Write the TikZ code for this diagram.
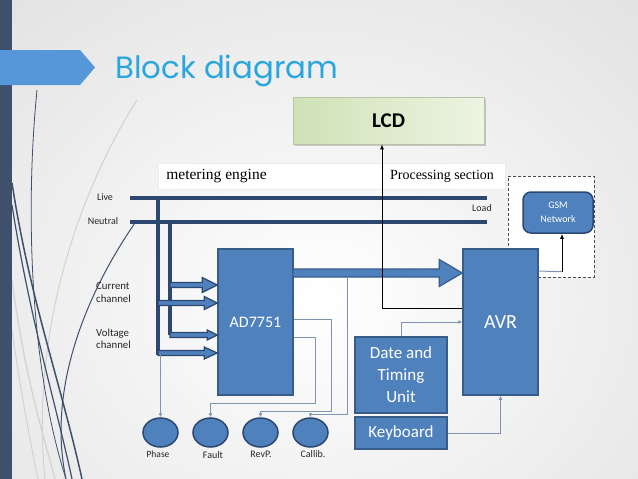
\documentclass[tikz,border=0pt]{standalone}
\usepackage{fontspec}
\setmainfont{Carlito}
\newfontfamily\titlefont{Poppins}
\newfontfamily\tnr{Liberation Serif}
\usetikzlibrary{arrows.meta,calc,shapes.geometric}
\definecolor{boxfill}{HTML}{4F81BD}
\definecolor{boxline}{HTML}{385D8A}
\definecolor{navy}{HTML}{2C4770}
\definecolor{thinc}{HTML}{7F94B0}
\definecolor{titleblue}{HTML}{29A6DE}
\definecolor{barcol}{HTML}{3E506B}
\definecolor{tabblue}{HTML}{5597D8}
\definecolor{lcdA}{HTML}{CFE2B6}
\definecolor{lcdB}{HTML}{EDF4E3}
\newcommand\blockarrow[6]{\path[#1] let \p1=#2, \p2=#3 in (\x1,\y1+#4pt) -- (\x2-#6pt,\y1+#4pt) -- (\x2-#6pt,\y1+#5pt) -- (\x2,\y1) -- (\x2-#6pt,\y1-#5pt) -- (\x2-#6pt,\y1-#4pt) -- (\x1,\y1-#4pt) -- cycle;}
\tikzset{
 blk/.style={draw=boxline, fill=boxfill, line width=1.5pt, inner sep=0pt, text=white, align=center},
 circ/.style={ellipse, draw=navy, fill=boxfill, line width=1.5pt, minimum width=35pt, minimum height=29pt, inner sep=0pt},
 lbl/.style={font=\fontsize{10}{13}\selectfont, inner sep=0pt, text=black!85, text height=1.5ex, text depth=0.25ex},
 bus/.style={draw=navy, line width=4pt},
 sig/.style={draw=thinc, line width=1pt, -{Latex[length=4pt,width=4pt]}},
 blackarr/.style={draw=black, line width=0.9pt, -{Latex[length=5pt,width=4pt]}},
 barr/.style={fill=boxfill, draw=navy, line width=1.2pt},
 curvedark/.style={draw=barcol, line width=#1},
 curvelight/.style={draw=gray!35, line width=#1},
}
\begin{document}
\begin{tikzpicture}[x=1pt,y=-1pt]
\useasboundingbox (0,0) rectangle (638,479);
% background
\shade[inner color=white, outer color=gray!22] (-150,-100) rectangle (788,700);
% decorative curves
\draw[curvelight=1pt] (137,100) .. controls (80,190) and (30,330) .. (45,479);
\draw[curvelight=1.2pt] (12,280) .. controls (25,380) and (45,440) .. (55,479);
\draw[curvelight=1pt] (12,330) .. controls (22,400) and (30,440) .. (38,479);
\draw[curvedark=0.8pt] (37,90) .. controls (26,200) and (28,360) .. (66,479);
\draw[curvedark=1.5pt] (12,183) .. controls (30,300) and (60,380) .. (82,479);
\draw[curvedark=1.2pt] (12,205) .. controls (30,320) and (55,400) .. (72,479);
\draw[curvedark=1pt] (137,220) .. controls (95,280) and (45,380) .. (66,479);
% left bar and tab
\fill[barcol] (0,0) rectangle (12,479);
\fill[tabblue] (0,50) -- (80,50) -- (95,67.5) -- (80,85) -- (0,85) -- cycle;
\node[anchor=base west, inner sep=0pt, text=titleblue, font=\titlefont\fontsize{30.8}{36}\selectfont] (title) at (115,78) {Block diagram};
% LCD
\fill[gray!45] (295,99) rectangle (486,146);
\node[draw=lcdA!70!gray, left color=lcdA, right color=lcdB, line width=0.6pt, minimum width=191pt, minimum height=47pt, inner sep=0pt, font=\bfseries\fontsize{21}{24}\selectfont] (lcd) at (388.5,120.5) {LCD};
% section label box
\node[fill=white, draw=gray!15, line width=0.5pt, minimum width=347pt, minimum height=26pt, inner sep=0pt] (sect) at (331.5,176) {};
\node[inner sep=0pt, font=\tnr\fontsize{15.5}{18}\selectfont] (meterlbl) at (216.5,176) {metering engine};
\node[inner sep=0pt, font=\tnr\fontsize{14}{17}\selectfont] (proclbl) at (442,176) {Processing section};
% buses
\coordinate (liveL) at (130,198);
\coordinate (liveR) at (487,198);
\coordinate (neuL) at (130,222);
\coordinate (neuR) at (487,222);
\coordinate (liveT) at (158,198);
\coordinate (neuT) at (170,222);
\coordinate (n1) at (170,285);
\coordinate (l1) at (158,303);
\coordinate (n2) at (170,335);
\coordinate (l2) at (158,353);
\draw[bus] (liveL) -- (liveR);
\draw[bus] (neuL) -- (neuR);
\draw[bus] ([yshift=2pt]liveT) -- ([yshift=-2pt]l2);
\draw[bus] (neuT) -- (n2);
\node[lbl] (live) at (105,198) {Live};
\node[lbl] (neutral) at (103,222) {Neutral};
\node[lbl] (load) at (482,209) {Load};
\node[lbl, align=left, anchor=west, font=\fontsize{10.8}{13}\selectfont, text height=, text depth=] (cur) at (96,293) {Current\\channel};
\node[lbl, align=left, anchor=west, font=\fontsize{10.8}{12.5}\selectfont, text height=, text depth=] (vol) at (96,339) {Voltage\\channel};
% GSM zone
\node[draw=gray!60!black, dashed, dash pattern=on 3pt off 2pt, fill=white, line width=1pt, minimum width=86pt, minimum height=101pt, inner sep=0pt] (gsmzone) at (551,226.5) {};
\node[blk, draw=navy, rounded corners=8pt, minimum width=70pt, minimum height=41pt, font=\fontsize{10}{14}\selectfont] (gsm) at (558,212.5) {GSM\\Network};
% main blocks
\node[blk, minimum width=75pt, minimum height=146pt, font=\fontsize{16}{19}\selectfont] (ad) at (255.5,322) {AD7751};
\node[blk, minimum width=75pt, minimum height=146pt, font=\fontsize{20}{24}\selectfont] (avr) at (500.5,322) {AVR};
\node[blk, minimum width=92pt, minimum height=76pt, font=\fontsize{17}{22}\selectfont] (date) at (401,375) {Date and\\Timing\\Unit};
\node[blk, minimum width=92pt, minimum height=32pt, font=\fontsize{17}{20}\selectfont] (kb) at (401,433) {Keyboard};
% circles
\node[circ] (phase) at (160.5,432.5) {};
\node[circ] (fault) at (210.5,432.5) {};
\node[circ] (revp) at (260.5,432.5) {};
\node[circ] (callib) at (310.5,432.5) {};
\node[lbl, font=\fontsize{9.5}{11}\selectfont] (phasel) at (158,455) {Phase};
\node[lbl, font=\fontsize{10}{11}\selectfont] (faultl) at (213,456) {Fault};
\node[lbl, font=\fontsize{10}{11}\selectfont] (revpl) at (261,455) {RevP.};
\node[lbl, font=\fontsize{10}{11}\selectfont] (callibl) at (313,455) {Callib.};
% block arrows into AD7751
\blockarrow{barr}{(n1)}{(ad.west |- n1)}{2.5}{7.5}{15}
\blockarrow{barr}{(l1)}{(ad.west |- l1)}{2.5}{6.5}{13}
\blockarrow{barr}{(n2)}{(ad.west |- n2)}{2.5}{5}{10}
\blockarrow{barr}{(l2)}{(ad.west |- l2)}{2.5}{6}{13}
% big arrow AD7751 -> AVR
\coordinate (bigS) at (293,273);
\blockarrow{fill=boxfill, draw=boxline, line width=1.2pt}{(bigS)}{(avr.west |- bigS)}{4}{13.5}{23}
\coordinate (cal1) at (347,277);
\coordinate (phs) at (160.5,355);
% thin signal lines
\draw[sig] (phs) -- (phase.north);
\draw[sig] ($(ad.east)+(0,15)$) -| (315,403) -| (fault.north);
\draw[sig] ($(ad.east)+(0,-3)$) -| (331,411) -| (revp.north);
\draw[sig] (cal1) -- (347,414) -| (callib.north);
\draw[sig] (date.north) |- (avr.west);
\draw[sig] (kb.east) -| (avr.south);
% black connectors
\draw[blackarr] ($(avr.west)+(0,-14)$) -| ($(lcd.south)+(-6.5,0)$);
\coordinate (gsmcorner) at ($(gsm.south)+(4,38)$);
\draw[draw=thinc, line width=1pt] ($(avr.east)+(0,-51)$) -- (gsmcorner);
\draw[blackarr] (gsmcorner) -- ($(gsm.south)+(4,0)$);
\end{tikzpicture}
\end{document}
